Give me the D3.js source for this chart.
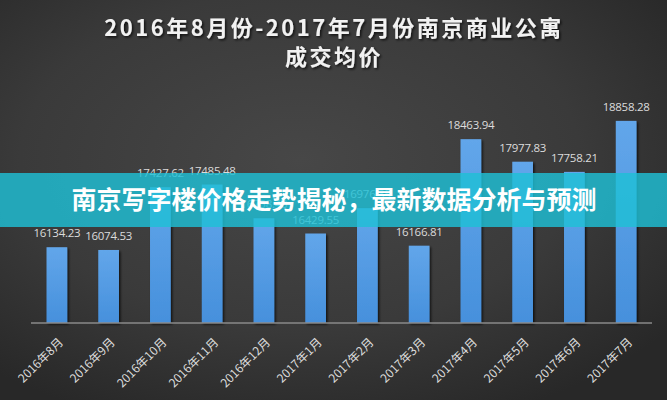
<!DOCTYPE html>
<html><head><meta charset="utf-8">
<script src="https://cdn.jsdelivr.net/npm/d3@7/dist/d3.min.js"></script>
<style>html,body{margin:0;padding:0;background:#2e2e2e;}svg{display:block;}</style>
</head><body>
<script>
const categories = ["2016年8月","2016年9月","2016年10月","2016年11月","2016年12月","2017年1月","2017年2月","2017年3月","2017年4月","2017年5月","2017年6月","2017年7月"];
const values = [16134.23,16074.53,17427.62,17485.48,16758.40,16429.55,16976.35,16166.81,18463.94,17977.83,17758.21,18858.28];
const titleLines = ["2016年8月份-2017年7月份南京商业公寓","成交均价"];
const bannerText = "南京写字楼价格走势揭秘，最新数据分析与预测";

const W = 667, H = 400;
const svg = d3.select("body").append("svg").attr("width", W).attr("height", H);
const defs = svg.append("defs");
const bg = defs.append("radialGradient").attr("id","bg").attr("cx","45%").attr("cy","40%").attr("r","70%");
bg.append("stop").attr("offset","0%").attr("stop-color","#474747");
bg.append("stop").attr("offset","60%").attr("stop-color","#3a3a3a");
bg.append("stop").attr("offset","100%").attr("stop-color","#282828");
const bar = defs.append("linearGradient").attr("id","bar").attr("x1",0).attr("x2",0).attr("y1",0).attr("y2",1);
bar.append("stop").attr("offset","0%").attr("stop-color","#62a6ea");
bar.append("stop").attr("offset","100%").attr("stop-color","#4690dc");
const shadow = defs.append("filter").attr("id","sh").attr("x","-20%").attr("y","-20%").attr("width","140%").attr("height","140%");
shadow.append("feDropShadow").attr("dx",1.5).attr("dy",1.5).attr("stdDeviation",1).attr("flood-color","#000").attr("flood-opacity",0.7);

svg.append("rect").attr("width",W).attr("height",H).attr("fill","url(#bg)");

const x = d3.scaleBand().domain(categories).range([31, 652]).paddingInner(0.6).paddingOuter(0.3);
const y = d3.scaleLinear().domain([14500, 19000]).range([323, 114.3]);

// title
svg.selectAll("text.title").data(titleLines).enter().append("text")
  .attr("class","title")
  .attr("x", 334).attr("y", (d,i)=> 36 + i*29)
  .attr("text-anchor","middle")
  .attr("font-family","'Noto Sans CJK SC', sans-serif")
  .attr("font-weight","bold").attr("font-size","22px")
  .attr("letter-spacing","2.5px")
  .attr("fill","#f2f2f2").attr("filter","url(#sh)")
  .text(d=>d);

// bars
svg.selectAll("rect.bar").data(values).enter().append("rect")
  .attr("class","bar")
  .attr("x",(d,i)=>x(categories[i]))
  .attr("width",x.bandwidth())
  .attr("y",d=>y(d))
  .attr("height",d=>y.range()[0]-y(d))
  .attr("fill","url(#bar)")
  .attr("filter","url(#sh)");

// value labels
svg.selectAll("text.val").data(values).enter().append("text")
  .attr("class","val")
  .attr("x",(d,i)=>x(categories[i])+x.bandwidth()/2)
  .attr("y",d=>y(d)-10)
  .attr("text-anchor","middle")
  .attr("font-family","'Open Sans', 'DejaVu Sans', sans-serif")
  .attr("font-size","11.5px").attr("letter-spacing","-0.3px")
  .attr("fill","#dcdcdc")
  .text(d=>d.toFixed(2));

// axis
const axis = d3.axisBottom(x).tickSize(0).tickPadding(0);
const gx = svg.append("g").attr("transform","translate(0,323)").call(axis);
gx.select(".domain").attr("stroke","#8a8a8a").attr("stroke-width",1.5).attr("d","M31,0H652");
gx.selectAll(".tick text")
  .attr("font-family","'Noto Sans CJK SC', sans-serif")
  .attr("font-size","12px")
  .attr("fill","#dcdcdc")
  .attr("text-anchor","end")
  .attr("dy",0)
  .attr("transform","translate(7,20) rotate(-45)");

// banner
svg.append("rect").attr("x",0).attr("y",173).attr("width",W).attr("height",54)
  .attr("fill","#1fbfd6").attr("opacity",0.82);
svg.append("text").attr("x",334).attr("y",209).attr("text-anchor","middle")
  .attr("font-family","'Noto Sans CJK SC', sans-serif")
  .attr("font-weight","bold").attr("font-size","25px")
  .attr("fill","#ffffff")
  .text(bannerText);
</script>
</body></html>
